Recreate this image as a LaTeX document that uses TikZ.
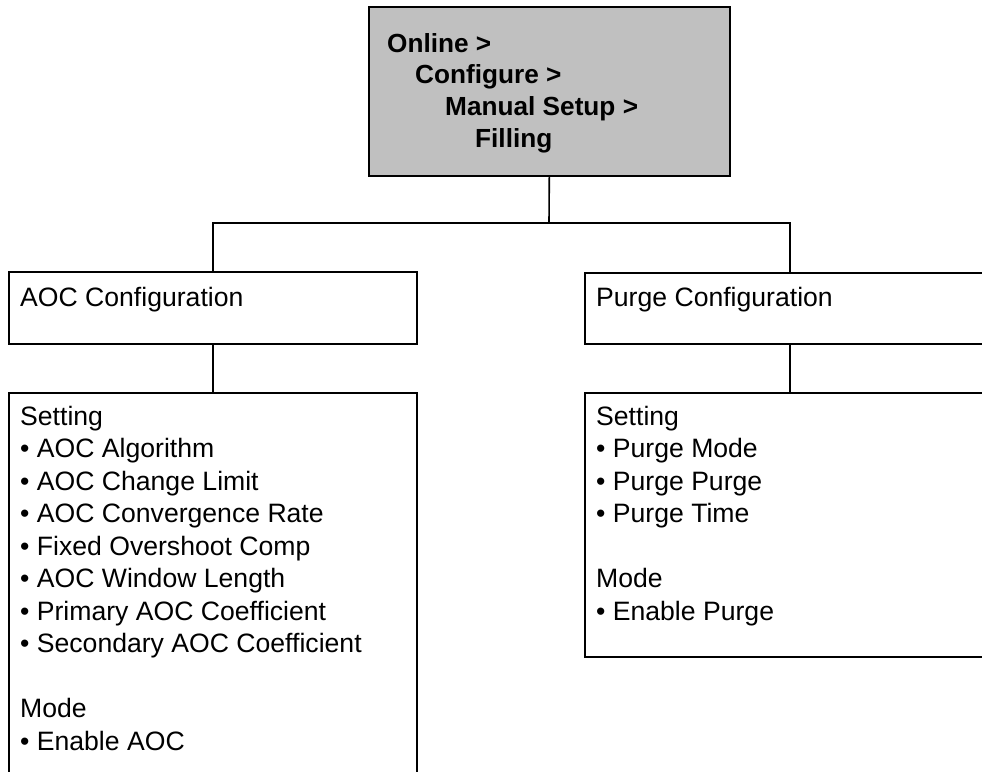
\documentclass[tikz,border=0pt]{standalone}
\usepackage{fontspec}
\setmainfont{Liberation Sans}
\begin{document}
\begin{tikzpicture}[x=1pt,y=-1pt,
  box/.style={draw=black,line width=1.6pt,rectangle,inner sep=0pt,anchor=north west,fill=white},
  topbox/.style={box,fill=boxgray},
  txt/.style={inner sep=0pt,anchor=base west,font=\fontsize{26.6}{32.5}\selectfont},
  btxt/.style={inner sep=0pt,anchor=base west,font=\fontsize{26.2}{31.7}\selectfont\bfseries},
  conn/.style={draw=black,line width=1.6pt}]
\definecolor{boxgray}{RGB}{192,192,192}
\useasboundingbox (0,0) rectangle (982,771);
\clip (0,0) rectangle (982,771);
% boxes
\node[topbox,minimum width=361pt,minimum height=169pt] (top) at (368,6) {};
\node[box,minimum width=408pt,minimum height=72pt] (aoc) at (8,271) {};
\node[box,minimum width=410pt,minimum height=71pt] (purge) at (584,272) {};
\node[box,minimum width=408pt,minimum height=420pt] (aocset) at (8,392) {};
\node[box,minimum width=410pt,minimum height=264pt] (purgeset) at (584,392) {};
% connectors
\coordinate (j) at (549,223);
\draw[conn] (top.south) -- (j);
\draw[conn] (aoc.north) |- (j) -| (purge.north);
\draw[conn] (aoc.south) -- (aocset.north);
\draw[conn] (purge.south) -- (purgeset.north);
% texts
\node[btxt] (toptext) at (387,52) {\begin{tabular}[t]{@{}l@{}}Online >\\\hspace*{28pt}Configure >\\\hspace*{58pt}Manual Setup >\\\hspace*{88pt}Filling\end{tabular}};
\node[txt] (aoctext) at (20,306) {AOC Configuration};
\node[txt] (purgetext) at (596,306) {Purge Configuration};
\node[txt] (aocsettext) at (20,425) {\begin{tabular}[t]{@{}l@{}}Setting\\
• AOC Algorithm\\
• AOC Change Limit\\
• AOC Convergence Rate\\
• Fixed Overshoot Comp\\
• AOC Window Length\\
• Primary AOC Coefficient\\
• Secondary AOC Coefficient\\
\\
Mode\\
• Enable AOC\end{tabular}};
\node[txt] (purgesettext) at (596,425) {\begin{tabular}[t]{@{}l@{}}Setting\\
• Purge Mode\\
• Purge Purge\\
• Purge Time\\
\\
Mode\\
• Enable Purge\end{tabular}};
\end{tikzpicture}
\end{document}
